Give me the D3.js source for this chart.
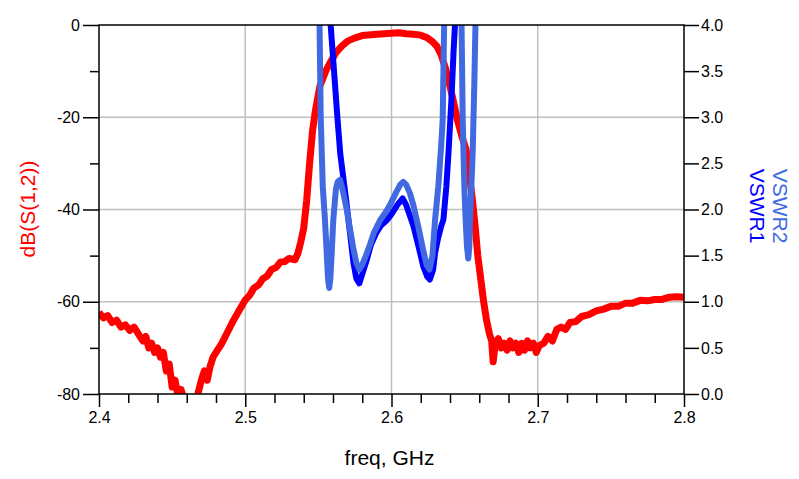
<!DOCTYPE html>
<html>
<head>
<meta charset="utf-8">
<script src="https://cdn.jsdelivr.net/npm/d3@7"></script>
<style>
  body { margin: 0; background: #fff; }
  svg { display: block; }
  text { font-family: Arial, "Liberation Sans", sans-serif; }
</style>
</head>
<body>
<svg id="chart" width="799" height="479"></svg>
<script>
// ---- data ----
const freqS12 = [2.400,2.403,2.406,2.409,2.412,2.415,2.418,2.421,2.424,2.427,2.430,2.432,2.434,2.436,2.438,2.440,2.442,2.444,2.446,2.448,2.450,2.452,2.454,2.456,2.458,2.460,2.463,2.466,2.468,2.470,2.472,2.474,2.476,2.478,2.481,2.484,2.488,2.492,2.496,2.500,2.503,2.506,2.509,2.512,2.515,2.518,2.521,2.524,2.527,2.530,2.534,2.536,2.538,2.540,2.542,2.544,2.546,2.548,2.551,2.555,2.558,2.562,2.566,2.570,2.575,2.580,2.590,2.600,2.605,2.610,2.615,2.620,2.624,2.628,2.631,2.634,2.637,2.640,2.643,2.645,2.648,2.651,2.655,2.657,2.659,2.661,2.663,2.665,2.667,2.6685,2.6695,2.671,2.673,2.675,2.677,2.679,2.681,2.683,2.685,2.687,2.689,2.691,2.693,2.695,2.697,2.699,2.701,2.704,2.707,2.710,2.713,2.716,2.719,2.722,2.726,2.730,2.735,2.740,2.745,2.750,2.755,2.760,2.765,2.770,2.775,2.780,2.785,2.790,2.795,2.800];
const s12dB = [-62.3,-63.5,-63.0,-64.5,-64.0,-65.5,-65.0,-66.2,-65.5,-67.0,-68.5,-67.5,-70.0,-69.0,-71.0,-70.0,-72.0,-71.0,-75.0,-73.5,-78.5,-77.0,-80.5,-79.0,-81,-81,-83,-82,-79.5,-77,-75,-77,-74,-72,-70.5,-69,-66.5,-64,-61.8,-59.6,-58.6,-57.0,-56.4,-55.0,-54.4,-53.0,-52.6,-51.4,-51.3,-50.6,-50.9,-49.5,-47.0,-44.0,-38,-30,-23,-18.5,-13.3,-10.0,-8.2,-6.0,-4.6,-3.5,-2.8,-2.3,-2.0,-1.8,-1.7,-1.9,-2.0,-2.2,-2.7,-3.6,-4.6,-6.5,-9.5,-13.3,-17.5,-20.5,-24,-27,-37,-43,-50,-55,-60,-64,-67,-68.5,-73,-69,-68,-70,-69,-70.5,-68.5,-70,-69,-71,-69,-70.5,-68.5,-70,-69,-71,-69.5,-69,-67.5,-68.5,-66,-65.5,-66,-64.5,-64.3,-63.2,-62.8,-62,-61.6,-61,-61.0,-60.3,-60.3,-59.7,-59.8,-59.5,-59.5,-59.0,-58.9,-59.0];

const freqVswr1 = [2.5570,2.5584,2.5607,2.5630,2.5650,2.5670,2.5690,2.5716,2.5740,2.5760,2.5780,2.5800,2.5830,2.5860,2.5897,2.5930,2.5966,2.6000,2.6040,2.6076,2.6100,2.6150,2.6185,2.6218,2.6245,2.6262,2.6285,2.6298,2.6320,2.6340,2.6355,2.6375,2.6390,2.6410,2.6424,2.6434,2.6445,2.6500];
const vswr1 = [4.6,4.0,3.5,3.0,2.6,2.35,2.1,1.75,1.42,1.25,1.2,1.3,1.45,1.62,1.75,1.83,1.88,1.95,2.05,2.12,2.05,1.82,1.6,1.38,1.27,1.24,1.35,1.53,1.7,1.82,1.89,2.25,2.62,3.2,3.7,4.0,4.6,8.0];

const freqVswr2 = [2.5500,2.5508,2.5516,2.5530,2.5545,2.5557,2.5566,2.5574,2.5582,2.5591,2.5602,2.5620,2.5632,2.5648,2.5665,2.5694,2.5715,2.5739,2.5760,2.5780,2.5800,2.5825,2.5853,2.5880,2.5921,2.5960,2.5990,2.6030,2.6060,2.6080,2.6100,2.6125,2.6149,2.6185,2.6218,2.6240,2.6260,2.6280,2.6298,2.6320,2.6340,2.6350,2.6360,2.6370,2.6420,2.6470,2.6479,2.6487,2.6498,2.6507,2.6516,2.6525,2.6532,2.6537,2.6555,2.6566,2.6574,2.6585,2.6640];
const vswr2 = [4.6,4.0,3.0,2.25,1.89,1.53,1.25,1.15,1.25,1.53,1.89,2.22,2.3,2.32,2.22,2.0,1.8,1.58,1.42,1.35,1.4,1.5,1.62,1.75,1.88,1.97,2.05,2.18,2.27,2.3,2.27,2.18,2.05,1.8,1.55,1.4,1.35,1.5,1.89,2.25,2.7,2.97,4.0,4.6,8.0,4.6,4.0,2.97,2.25,1.89,1.6,1.47,1.6,1.89,2.61,3.34,4.0,4.8,8.0];

const xMajorTicks = [2.4,2.5,2.6,2.7,2.8];
const xMinorTicks = [2.42,2.44,2.46,2.48,2.52,2.54,2.56,2.58,2.62,2.64,2.66,2.68,2.72,2.74,2.76,2.78];
const yLeftMajor = [0,-20,-40,-60,-80];
const yLeftMinor = [-10,-30,-50,-70];
const yRightTicks = [0.0,0.5,1.0,1.5,2.0,2.5,3.0,3.5,4.0];
const xGrid = [2.5,2.6,2.7];
const yGrid = [-20,-40,-60];

// ---- layout ----
const W = 799, H = 479;
const m = {left: 99, right: 115, top: 25, bottom: 85};
const pw = W - m.left - m.right, ph = H - m.top - m.bottom;

const svg = d3.select("#chart");
const g = svg.append("g").attr("transform", `translate(${m.left},${m.top})`);

const x = d3.scaleLinear().domain([2.4, 2.8]).range([0, pw]);
const yL = d3.scaleLinear().domain([-80, 0]).range([ph, 0]);
const yR = d3.scaleLinear().domain([0, 4]).range([ph, 0]);

// grid
g.append("g").selectAll("line").data(xGrid).join("line")
  .attr("x1", d => x(d)).attr("x2", d => x(d)).attr("y1", 0).attr("y2", ph)
  .attr("stroke", "#c0c0c0").attr("stroke-width", 1.5);
g.append("g").selectAll("line").data(yGrid).join("line")
  .attr("y1", d => yL(d)).attr("y2", d => yL(d)).attr("x1", 0).attr("x2", pw)
  .attr("stroke", "#c0c0c0").attr("stroke-width", 1.5);

// clip
svg.append("defs").append("clipPath").attr("id", "plotclip")
  .append("rect").attr("x", 0).attr("y", 0).attr("width", pw).attr("height", ph);

const plot = g.append("g").attr("clip-path", "url(#plotclip)");

const lineS12 = d3.line().x(d => x(d[0])).y(d => yL(d[1]));
const lineV = d3.line().x(d => x(d[0])).y(d => yR(d[1]));

plot.append("path").datum(d3.zip(freqS12, s12dB))
  .attr("d", lineS12).attr("fill", "none").attr("stroke", "#ff0000")
  .attr("stroke-width", 7).attr("stroke-linejoin", "round");
plot.append("path").datum(d3.zip(freqVswr1, vswr1))
  .attr("d", lineV).attr("fill", "none").attr("stroke", "#0000ff")
  .attr("stroke-width", 6).attr("stroke-linejoin", "round");
plot.append("path").datum(d3.zip(freqVswr2, vswr2))
  .attr("d", lineV).attr("fill", "none").attr("stroke", "#4169e1")
  .attr("stroke-width", 6).attr("stroke-linejoin", "round");

// axes
function styleAxis(sel) {
  sel.select(".domain").remove();
  sel.selectAll(".tick line").attr("stroke", "#000").attr("stroke-width", 1.5);
  sel.selectAll(".tick text").attr("fill", "#000").style("font-size", "16px")
     .style("font-family", 'Arial, "Liberation Sans", sans-serif');
}
g.append("g").attr("transform", `translate(0,${ph})`)
  .call(d3.axisBottom(x).tickValues(xMajorTicks).tickSize(13).tickPadding(5)
        .tickFormat(d3.format(".1f"))).call(styleAxis);
g.append("g").attr("transform", `translate(0,${ph})`)
  .call(d3.axisBottom(x).tickValues(xMinorTicks).tickSize(9).tickFormat(""))
  .call(styleAxis);
g.append("g")
  .call(d3.axisLeft(yL).tickValues(yLeftMajor).tickSize(16).tickPadding(3)
        .tickFormat(d => String(d))).call(styleAxis);
g.append("g")
  .call(d3.axisLeft(yL).tickValues(yLeftMinor).tickSize(9).tickFormat(""))
  .call(styleAxis);
g.append("g").attr("transform", `translate(${pw},0)`)
  .call(d3.axisRight(yR).tickValues(yRightTicks).tickSize(15).tickPadding(2)
        .tickFormat(d3.format(".1f"))).call(styleAxis);

// frame
g.append("rect").attr("x", 0).attr("y", 0).attr("width", pw).attr("height", ph)
  .attr("fill", "none").attr("stroke", "#000").attr("stroke-width", 1.5);

// titles
svg.append("text").attr("x", m.left + pw / 2 - 2).attr("y", 465)
  .attr("text-anchor", "middle").style("font-size", "21px").attr("fill", "#000")
  .text("freq, GHz");
svg.append("text").attr("transform", "translate(35,209) rotate(-90)")
  .attr("text-anchor", "middle").style("font-size", "21px").attr("fill", "#ff0000")
  .text("dB(S(1,2))");
svg.append("text").attr("transform", "translate(750,206) rotate(90)")
  .attr("text-anchor", "middle").style("font-size", "21px").attr("fill", "#0000ff")
  .text("VSWR1");
svg.append("text").attr("transform", "translate(773,206) rotate(90)")
  .attr("text-anchor", "middle").style("font-size", "21px").attr("fill", "#4169e1")
  .text("VSWR2");
</script>
</body>
</html>
